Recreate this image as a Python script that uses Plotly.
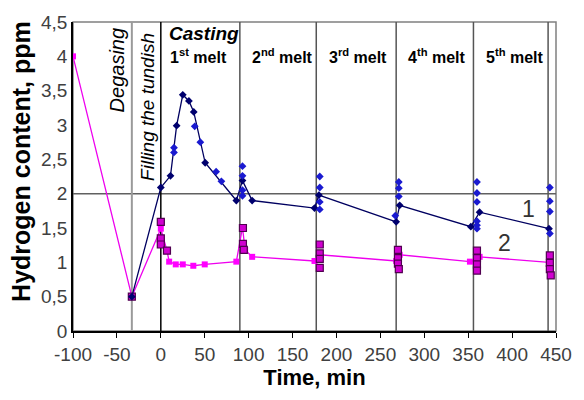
import plotly.graph_objects as go

# Hydrogen content during degassing, tundish filling and casting of five melts
# Curve 1: main line (blue diamonds)
c1_t = [-33, 0, 11, 18, 25, 32, 37.5, 50.5, 86, 93, 104, 175, 180, 268, 272, 353, 363, 442]
c1_h = [0.5, 2.09, 2.26, 2.99, 3.44, 3.35, 3.19, 2.45, 1.90, 2.19, 1.90, 1.79, 1.98, 1.59, 1.83, 1.52, 1.73, 1.49]
# Curve 1: individual samples
s1_t = [15, 15, 38.6, 45, 63, 69, 93, 93, 93, 93, 181, 181, 181, 181, 267, 271, 271, 271,
        360, 360, 360, 360, 360, 360, 443, 443, 443, 443]
s1_h = [2.67, 2.60, 2.98, 2.75, 2.32, 2.18, 2.40, 2.26, 2.05, 1.97, 2.25, 2.09, 1.88, 1.77, 1.68, 2.17, 2.08, 1.96,
        2.17, 2.01, 1.88, 1.60, 1.54, 1.49, 2.09, 1.89, 1.74, 1.42]

# Curve 2: main line (magenta squares)
c2_t = [-100, -33, 0, 7, 9.5, 17, 25, 37, 50, 86, 93, 96, 104, 175, 181, 268, 272, 352, 363, 442]
c2_h = [4.0, 0.5, 1.49, 1.17, 1.01, 0.97, 0.97, 0.95, 0.97, 1.01, 1.51, 1.18, 1.08, 1.02, 1.11, 1.02, 1.11, 1.01, 1.08, 1.00]
# Curve 2: individual samples
s2_t = [-33, 0, 0, 0, 7, 93.5, 93.5, 94.5, 181, 181, 181, 181, 270, 270, 270, 271,
        360, 360, 360, 360, 443, 443, 443, 444]
s2_h = [0.5, 1.59, 1.35, 1.26, 1.17, 1.50, 1.27, 1.18, 1.26, 1.13, 1.05, 0.92, 1.18, 1.06, 0.98, 0.90,
        1.17, 1.06, 0.97, 0.88, 1.10, 0.99, 0.90, 0.81]

# Stage boundaries (min)
degas_end = -33
melt_bounds = [0, 90, 177, 268, 356, 441]

x_ticks = [-100, -50, 0, 50, 100, 150, 200, 250, 300, 350, 400, 450]
x_labels = ["-100", "-50", "0", "50", "100", "150", "200", "250", "300", "350", "400", "450"]
y_ticks = [0, 0.5, 1, 1.5, 2, 2.5, 3, 3.5, 4, 4.5]
y_labels = ["0", "0,5", "1", "1,5", "2", "2,5", "3", "3,5", "4", "4,5"]

melt_labels = ["1<sup>st</sup> melt", "2<sup>nd</sup> melt", "3<sup>rd</sup> melt",
               "4<sup>th</sup> melt", "5<sup>th</sup> melt"]
melt_label_t = [8.6, 102, 189, 279, 368]

FONT = "Liberation Sans, Arial, sans-serif"

fig = go.Figure()

fig.add_trace(go.Scatter(x=c2_t, y=c2_h, mode="lines+markers",
                         line=dict(color="#ee00ee", width=1.3),
                         marker=dict(symbol="square", size=6, color="#ff00ff"),
                         showlegend=False))
fig.add_trace(go.Scatter(x=s2_t, y=s2_h, mode="markers",
                         marker=dict(symbol="square", size=7, color="#d000d0",
                                     line=dict(color="#500050", width=1.2)),
                         showlegend=False))
fig.add_trace(go.Scatter(x=c1_t, y=c1_h, mode="lines+markers",
                         line=dict(color="#000060", width=1.3),
                         marker=dict(symbol="diamond", size=6, color="#00006e"),
                         showlegend=False))
fig.add_trace(go.Scatter(x=s1_t, y=s1_h, mode="markers",
                         marker=dict(symbol="diamond", size=6, color="#1a1ad0"),
                         showlegend=False))

shapes = []
# frame (top and right)
shapes.append(dict(type="rect", xref="paper", yref="paper", x0=0, x1=1, y0=0, y1=1,
                   line=dict(color="#808080", width=1.5), layer="below"))
# horizontal reference line at 2 ppm
shapes.append(dict(type="line", xref="paper", yref="y", x0=0, x1=1, y0=2, y1=2,
                   line=dict(color="#606060", width=1.5), layer="below"))
# end of degassing
shapes.append(dict(type="line", xref="x", yref="paper", x0=degas_end, x1=degas_end, y0=0, y1=1,
                   line=dict(color="#9a9a9a", width=2), layer="below"))
for i, b in enumerate(melt_bounds):
    shapes.append(dict(type="line", xref="x", yref="paper", x0=b, x1=b, y0=0, y1=1,
                       line=dict(color="#000000" if i == 0 else "#555555", width=1.5),
                       layer="below"))

ann = []
lab_font = dict(family=FONT, size=16, color="#000000")
for txt, t in zip(melt_labels, melt_label_t):
    ann.append(dict(x=t, y=4.0, xref="x", yref="y", text="<b>" + txt + "</b>",
                    showarrow=False, xanchor="left", yanchor="middle", font=lab_font))
ann.append(dict(x=7.0, y=4.33, xref="x", yref="y", text="<b><i>Casting</i></b>",
                showarrow=False, xanchor="left", yanchor="middle",
                font=dict(family=FONT, size=19, color="#000000")))
ann.append(dict(x=-49.5, y=3.8, xref="x", yref="y", text="<i>Degasing</i>", textangle=-90,
                showarrow=False, xanchor="center", yanchor="middle",
                font=dict(family=FONT, size=20, color="#000000")))
ann.append(dict(x=-16, y=3.26, xref="x", yref="y", text="<i>Filling the tundish</i>", textangle=-90,
                showarrow=False, xanchor="center", yanchor="middle",
                font=dict(family=FONT, size=19, color="#000000")))
ann.append(dict(x=419, y=1.78, xref="x", yref="y", text="1", showarrow=False,
                font=dict(family=FONT, size=23, color="#333333")))
ann.append(dict(x=391, y=1.28, xref="x", yref="y", text="2", showarrow=False,
                font=dict(family=FONT, size=23, color="#333333")))
# y-axis title, centred slightly above the middle of the plot area
ann.append(dict(x=-0.108, y=0.55, xref="paper", yref="paper", xanchor="center", yanchor="middle",
                text="<b>Hydrogen content, ppm</b>", textangle=-90, showarrow=False,
                font=dict(family=FONT, size=25, color="#000000")))

fig.update_layout(
    width=584, height=400,
    margin=dict(l=73, r=19, t=18, b=69),
    paper_bgcolor="white", plot_bgcolor="white",
    separators=", ",
    shapes=shapes, annotations=ann,
    font=dict(family=FONT, color="#333333"),
    xaxis=dict(range=[-100, 450], tickvals=x_ticks, ticktext=x_labels,
               ticks="outside", ticklen=5, tickcolor="#000000", tickwidth=1.2,
               showline=True, linecolor="#000000", linewidth=1.5,
               showgrid=False, zeroline=False,
               tickfont=dict(size=19, color="#404040"),
               title=dict(text="<b>Time, min</b>", standoff=6,
                          font=dict(size=22, color="#000000"))),
    yaxis=dict(range=[0, 4.5], tickvals=y_ticks, ticktext=y_labels,
               ticks="", showline=True, linecolor="#000000", linewidth=1.5,
               showgrid=False, zeroline=False,
               tickfont=dict(size=19, color="#404040")),
)

fig.write_html("out.html")
